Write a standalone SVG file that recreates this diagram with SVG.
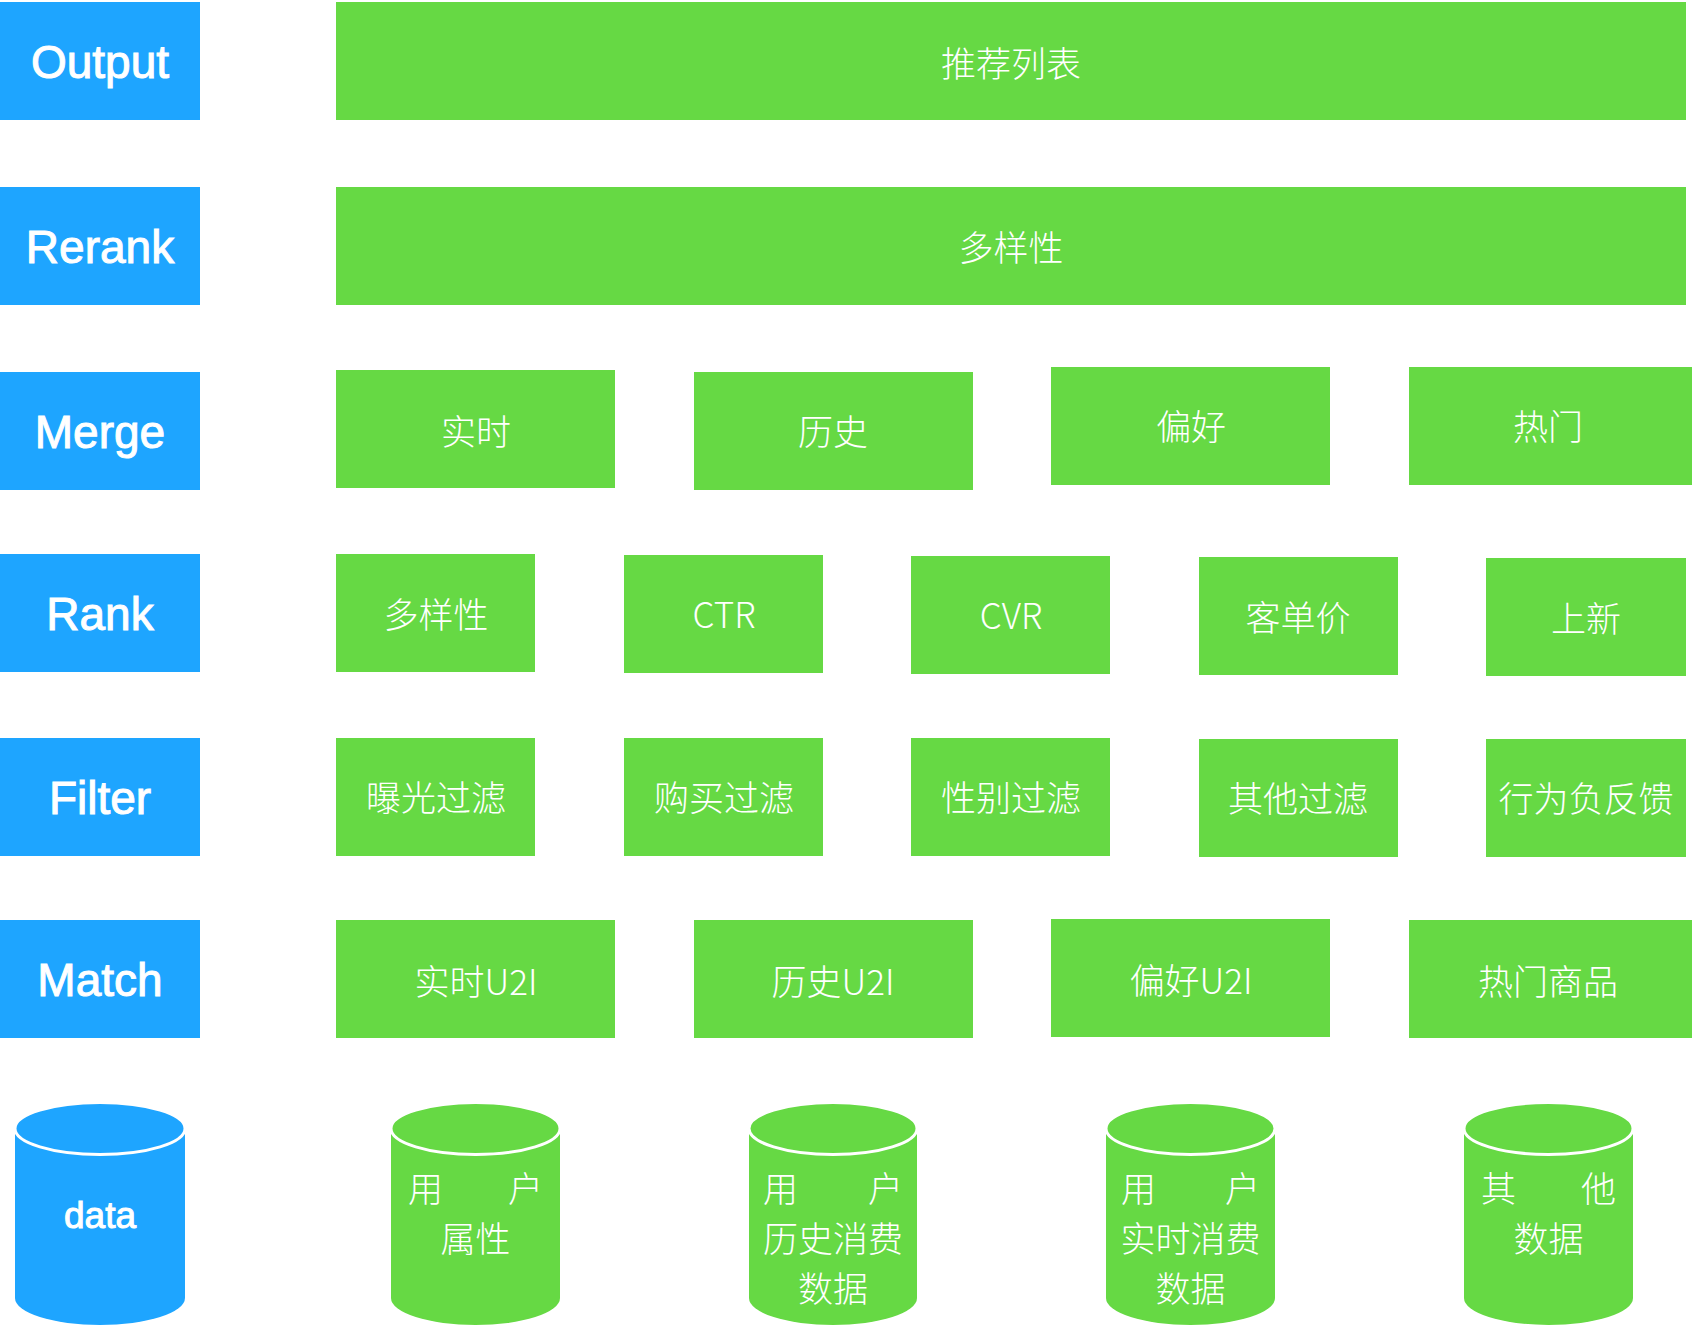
<svg xmlns="http://www.w3.org/2000/svg" width="1692" height="1330" viewBox="0 0 1692 1330">
<style>
.lab{fill:#1EA5FF}
.box{fill:#66D944}
.lt{font-family:"Liberation Sans",Arial,sans-serif;font-size:46px;fill:#fff;stroke:#fff;stroke-width:1;text-anchor:middle}
.ct{font-family:"Noto Sans CJK SC","Noto Sans",sans-serif;font-weight:300;font-size:35px;fill:#fff;text-anchor:middle}
.cs{font-family:"Noto Sans CJK SC","Noto Sans",sans-serif;font-weight:300;font-size:35px;fill:#fff;text-anchor:start}
.ce{font-family:"Noto Sans CJK SC","Noto Sans",sans-serif;font-weight:300;font-size:35px;fill:#fff;text-anchor:end}
.cap{stroke:#fff;stroke-width:3}
</style>
<rect width="1692" height="1330" fill="#fff"/>
<g id="labels">
<g id="lab-output"><rect class="lab" x="0" y="2" width="200" height="118"/><text class="lt" x="100" y="78">Output</text></g>
<g id="lab-rerank"><rect class="lab" x="0" y="187" width="200" height="118"/><text class="lt" x="100" y="263">Rerank</text></g>
<g id="lab-merge"><rect class="lab" x="0" y="372" width="200" height="118"/><text class="lt" x="100" y="448">Merge</text></g>
<g id="lab-rank"><rect class="lab" x="0" y="554" width="200" height="118"/><text class="lt" x="100" y="630">Rank</text></g>
<g id="lab-filter"><rect class="lab" x="0" y="738" width="200" height="118"/><text class="lt" x="100" y="814">Filter</text></g>
<g id="lab-match"><rect class="lab" x="0" y="920" width="200" height="118"/><text class="lt" x="100" y="996">Match</text></g>
<g id="lab-data">
<path class="lab" d="M15,1128.5 V1298 A85,27 0 0 0 185,1298 V1128.5 Z"/>
<ellipse class="lab cap" cx="100" cy="1128.5" rx="85" ry="26"/>
<text class="lt" x="100" y="1228" style="font-size:37px">data</text>
</g>
</g>
<g id="output"><rect class="box" x="336" y="2" width="1350" height="118"/><text class="ct" x="1011" y="77">推荐列表</text></g>
<g id="rerank"><rect class="box" x="336" y="187" width="1350" height="118"/><text class="ct" x="1011" y="261">多样性</text></g>
<g id="merge-1"><rect class="box" x="336" y="370" width="279" height="118"/><text class="ct" x="476" y="445">实时</text></g>
<g id="merge-2"><rect class="box" x="694" y="372" width="279" height="118"/><text class="ct" x="833" y="445">历史</text></g>
<g id="merge-3"><rect class="box" x="1051" y="367" width="279" height="118"/><text class="ct" x="1191" y="440">偏好</text></g>
<g id="merge-4"><rect class="box" x="1409" y="367" width="283" height="118"/><text class="ct" x="1548" y="440">热门</text></g>
<g id="rank-1"><rect class="box" x="336" y="554" width="199" height="118"/><text class="ct" x="436" y="628">多样性</text></g>
<g id="rank-2"><rect class="box" x="624" y="555" width="199" height="118"/><text class="ct" x="724" y="628">CTR</text></g>
<g id="rank-3"><rect class="box" x="911" y="556" width="199" height="118"/><text class="ct" x="1011" y="629">CVR</text></g>
<g id="rank-4"><rect class="box" x="1199" y="557" width="199" height="118"/><text class="ct" x="1298" y="631">客单价</text></g>
<g id="rank-5"><rect class="box" x="1486" y="558" width="200" height="118"/><text class="ct" x="1586" y="632">上新</text></g>
<g id="filter-1"><rect class="box" x="336" y="738" width="199" height="118"/><text class="ct" x="436" y="811">曝光过滤</text></g>
<g id="filter-2"><rect class="box" x="624" y="738" width="199" height="118"/><text class="ct" x="724" y="811">购买过滤</text></g>
<g id="filter-3"><rect class="box" x="911" y="738" width="199" height="118"/><text class="ct" x="1011" y="811">性别过滤</text></g>
<g id="filter-4"><rect class="box" x="1199" y="739" width="199" height="118"/><text class="ct" x="1298" y="812">其他过滤</text></g>
<g id="filter-5"><rect class="box" x="1486" y="739" width="200" height="118"/><text class="ct" x="1586" y="812">行为负反馈</text></g>
<g id="match-1"><rect class="box" x="336" y="920" width="279" height="118"/><text class="ct" x="476" y="995">实时U2I</text></g>
<g id="match-2"><rect class="box" x="694" y="920" width="279" height="118"/><text class="ct" x="833" y="995">历史U2I</text></g>
<g id="match-3"><rect class="box" x="1051" y="919" width="279" height="118"/><text class="ct" x="1191" y="994">偏好U2I</text></g>
<g id="match-4"><rect class="box" x="1409" y="920" width="283" height="118"/><text class="ct" x="1548" y="995">热门商品</text></g>
<g id="data-1">
<path class="box" d="M391,1128.5 V1298 A84.5,27 0 0 0 560,1298 V1128.5 Z"/>
<ellipse class="box cap" cx="475.5" cy="1128.5" rx="84.5" ry="26"/>
<text class="cs" x="408" y="1202">用</text><text class="ce" x="543" y="1202">户</text>
<text class="ct" x="475.5" y="1252">属性</text>
</g>
<g id="data-2">
<path class="box" d="M749,1128.5 V1298 A84,27 0 0 0 917,1298 V1128.5 Z"/>
<ellipse class="box cap" cx="833" cy="1128.5" rx="84" ry="26"/>
<text class="cs" x="763" y="1202">用</text><text class="ce" x="903" y="1202">户</text>
<text class="ct" x="833" y="1252">历史消费</text>
<text class="ct" x="833" y="1302">数据</text>
</g>
<g id="data-3">
<path class="box" d="M1106,1128.5 V1298 A84.5,27 0 0 0 1275,1298 V1128.5 Z"/>
<ellipse class="box cap" cx="1190.5" cy="1128.5" rx="84.5" ry="26"/>
<text class="cs" x="1121" y="1202">用</text><text class="ce" x="1260" y="1202">户</text>
<text class="ct" x="1190.5" y="1252">实时消费</text>
<text class="ct" x="1190.5" y="1302">数据</text>
</g>
<g id="data-4">
<path class="box" d="M1464,1128.5 V1298 A84.5,27 0 0 0 1633,1298 V1128.5 Z"/>
<ellipse class="box cap" cx="1548.5" cy="1128.5" rx="84.5" ry="26"/>
<text class="cs" x="1481" y="1202">其</text><text class="ce" x="1616" y="1202">他</text>
<text class="ct" x="1548.5" y="1252">数据</text>
</g>
<g id="connectors"/>
</svg>
